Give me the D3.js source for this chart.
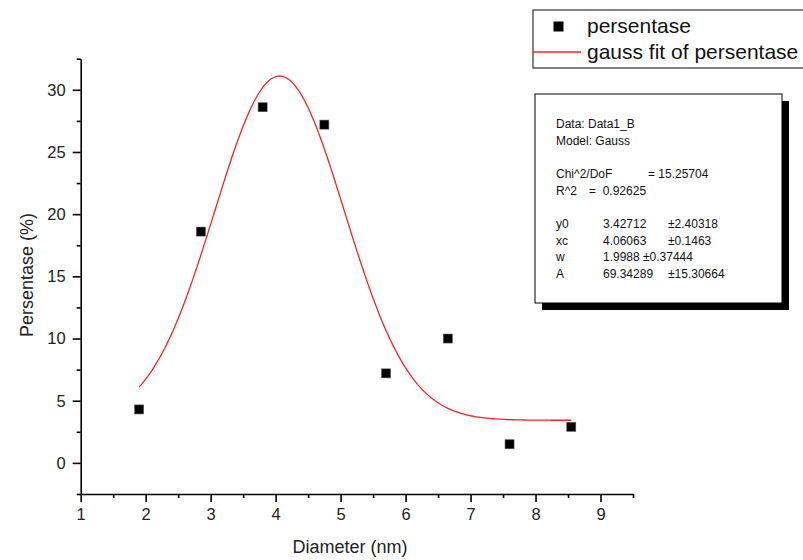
<!DOCTYPE html>
<html>
<head>
<meta charset="utf-8">
<script src="https://cdn.jsdelivr.net/npm/d3@7"></script>
<style>
  html, body { margin: 0; padding: 0; background: #fff; }
  svg { display: block; font-family: "Liberation Sans", Arial, sans-serif; }
  text { white-space: pre; }
</style>
</head>
<body>
<svg id="chart" width="803" height="560"></svg>
<script>
// ---- data ----
const diameters = [1.9, 2.85, 3.8, 4.75, 5.7, 6.65, 7.6, 8.55];
const persentase = [4.3, 18.6, 28.6, 27.2, 7.2, 10.0, 1.5, 2.9];

// Gauss fit parameters (from the fit report)
const fitParamNames = ["y0", "xc", "w", "A"];
const fitParamValues = [3.42712, 4.06063, 1.9988, 69.34289];
const fitParamErrors = ["\u00b12.40318", "\u00b10.1463", "\u00b10.37444", "\u00b115.30664"];
const fitParamValueText = ["3.42712", "4.06063", "1.9988", "69.34289"];
const fitRange = [1.9, 8.55];

const xMajorTicks = [1, 2, 3, 4, 5, 6, 7, 8, 9];
const xMinorTicks = [1.5, 2.5, 3.5, 4.5, 5.5, 6.5, 7.5, 8.5, 9.5];
const yMajorTicks = [0, 5, 10, 15, 20, 25, 30];
const yMinorTicks = [-2.5, 2.5, 7.5, 12.5, 17.5, 22.5, 27.5, 32.5];

const legendLabels = ["persentase", "gauss fit of persentase"];

// ---- setup ----
const svg = d3.select("#chart");
const x = d3.scaleLinear().domain([1, 9.5]).range([80.7, 633]);
const y = d3.scaleLinear().domain([-2.5, 32.5]).range([494, 58.7]);

const axisStroke = 1.6;

// X axis
const gx = svg.append("g").attr("transform", `translate(0,${y(-2.5)})`);
gx.call(d3.axisBottom(x).tickValues(xMajorTicks).tickSize(8).tickSizeOuter(0).tickFormat(d3.format("d")));
const gxm = svg.append("g").attr("transform", `translate(0,${y(-2.5)})`);
gxm.call(d3.axisBottom(x).tickValues(xMinorTicks).tickSize(4).tickSizeOuter(0).tickFormat(""));
gxm.select(".domain").remove();

// Y axis
const gy = svg.append("g").attr("transform", `translate(${x(1)},0)`);
gy.call(d3.axisLeft(y).tickValues(yMajorTicks).tickSize(8).tickSizeOuter(0).tickFormat(d3.format("d")));
const gym = svg.append("g").attr("transform", `translate(${x(1)},0)`);
gym.call(d3.axisLeft(y).tickValues(yMinorTicks).tickSize(4).tickSizeOuter(0).tickFormat(""));
gym.select(".domain").remove();

svg.selectAll(".domain").attr("stroke", "#000").attr("stroke-width", axisStroke);
svg.selectAll(".tick line").attr("stroke", "#000").attr("stroke-width", axisStroke);
svg.selectAll(".tick text").attr("fill", "#222").style("font-size", "16.5px")
   .style("font-family", "\"Liberation Sans\", Arial, sans-serif");
gx.selectAll(".tick text").attr("y", 14);
gy.selectAll(".tick text").attr("x", -15);

// Axis titles
svg.append("text")
  .attr("x", 350).attr("y", 553)
  .attr("text-anchor", "middle")
  .style("font-size", "18px").attr("fill", "#222")
  .text("Diameter (nm)");
svg.append("text")
  .attr("transform", `translate(33,${275}) rotate(-90)`)
  .attr("text-anchor", "middle")
  .style("font-size", "18px").attr("fill", "#222")
  .text("Persentase (%)");

// Fit curve
const [y0, xc, w, A] = fitParamValues;
const gauss = t => y0 + A / (w * Math.sqrt(Math.PI / 2)) * Math.exp(-2 * (t - xc) * (t - xc) / (w * w));
const fitX = d3.range(fitRange[0], fitRange[1] + 1e-9, (fitRange[1] - fitRange[0]) / 200);
const line = d3.line().x(d => x(d)).y(d => y(gauss(d))).curve(d3.curveLinear);
svg.append("path")
  .datum(fitX)
  .attr("d", line)
  .attr("fill", "none")
  .attr("stroke", "#ff2020")
  .attr("stroke-width", 1.3);

// Data points
const sq = 9;
svg.append("g").selectAll("rect")
  .data(diameters.map((d, i) => [d, persentase[i]]))
  .join("rect")
  .attr("x", d => x(d[0]) - sq / 2)
  .attr("y", d => y(d[1]) - sq / 2)
  .attr("width", sq).attr("height", sq)
  .attr("fill", "#000")
  .attr("stroke", "#555").attr("stroke-width", 0.6);

// Legend
const lg = svg.append("g");
lg.append("rect")
  .attr("x", 533).attr("y", 10).attr("width", 290).attr("height", 58)
  .attr("fill", "#fff").attr("stroke", "#333").attr("stroke-width", 1.2);
lg.append("rect")
  .attr("x", 553.5).attr("y", 21.5).attr("width", 10).attr("height", 10)
  .attr("fill", "#000");
lg.append("text").attr("x", 587).attr("y", 33)
  .style("font-size", "21px").attr("fill", "#111").text(legendLabels[0]);
lg.append("line")
  .attr("x1", 533).attr("x2", 581).attr("y1", 52).attr("y2", 52)
  .attr("stroke", "#ff2020").attr("stroke-width", 1.3);
lg.append("text").attr("x", 587).attr("y", 59)
  .style("font-size", "21px").attr("fill", "#111").text(legendLabels[1]);

// Fit report box
const bx = 535, by = 94, bw = 247, bh = 209, sh = 7;
svg.append("rect").attr("x", bx + sh).attr("y", by + sh).attr("width", bw).attr("height", bh).attr("fill", "#000");
svg.append("rect").attr("x", bx).attr("y", by).attr("width", bw).attr("height", bh)
  .attr("fill", "#fff").attr("stroke", "#000").attr("stroke-width", 1);
const rep = svg.append("g").style("font-size", "12px").attr("fill", "#111");
rep.append("text").attr("x", 556).attr("y", 128).text("Data: Data1_B");
rep.append("text").attr("x", 556).attr("y", 145).text("Model: Gauss");
rep.append("text").attr("x", 556).attr("y", 178).text("Chi^2/DoF");
rep.append("text").attr("x", 648).attr("y", 178).text("= 15.25704");
rep.append("text").attr("x", 556).attr("y", 195).text("R^2");
rep.append("text").attr("x", 589).attr("y", 195).text("=  0.92625");
const rowY = [228, 245, 261, 278];
fitParamNames.forEach((n, i) => {
  rep.append("text").attr("x", 556).attr("y", rowY[i]).text(n);
  rep.append("text").attr("x", 603).attr("y", rowY[i]).text(fitParamValueText[i]);
  rep.append("text").attr("x", n === "w" ? 643 : 668).attr("y", rowY[i]).text(fitParamErrors[i]);
});
</script>
</body>
</html>
